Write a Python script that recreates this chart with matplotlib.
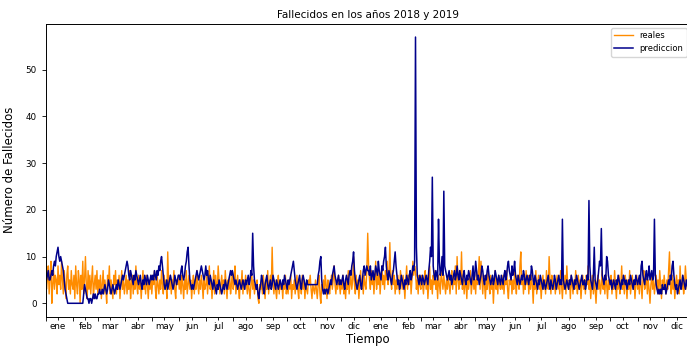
import matplotlib
matplotlib.use('Agg')
import matplotlib.pyplot as plt
import matplotlib.dates as mdates
import numpy as np
import pandas as pd

# daily values, one line per month
reales_2018 = [
    7, 3, 5, 8, 2, 6, 9, 0, 4, 7, 3, 6, 5, 2, 8, 4, 6, 3, 9, 5, 2, 7, 4, 1, 6, 8, 3, 5, 2, 7, 4,
    3, 6, 1, 8, 4, 2, 7, 5, 0, 6, 3, 9, 2, 5, 10, 4, 1, 7, 3, 6, 2, 5, 8, 1, 4, 6, 3, 7,
    2, 5, 3, 6, 1, 4, 7, 2, 5, 3, 0, 6, 4, 8, 2, 5, 3, 1, 6, 4, 7, 2, 5, 3, 6, 1, 4, 7, 3, 5, 2,
    4, 6, 2, 5, 3, 7, 1, 4, 6, 2, 5, 3, 8, 4, 2, 6, 3, 5, 1, 4, 7, 3, 5, 2, 6, 4, 1, 5, 3, 6,
    2, 5, 4, 7, 3, 1, 6, 4, 2, 5, 3, 7, 4, 2, 6, 3, 5, 1, 11, 4, 3, 6, 2, 5, 4, 7, 3, 1, 5, 4, 6,
    3, 5, 2, 6, 4, 1, 5, 3, 7, 2, 4, 6, 3, 5, 1, 4, 6, 2, 5, 3, 7, 4, 2, 5, 3, 6, 4, 1, 5, 3,
    4, 6, 2, 5, 8, 3, 5, 1, 4, 7, 2, 6, 4, 3, 8, 5, 2, 4, 6, 3, 5, 2, 7, 4, 1, 5, 3, 6, 2, 4, 7,
    3, 5, 8, 2, 4, 6, 3, 1, 5, 4, 7, 2, 5, 3, 6, 4, 2, 5, 3, 1, 4, 6, 3, 5, 2, 4, 3, 5, 1, 0, 4,
    3, 5, 2, 6, 4, 1, 5, 3, 7, 2, 4, 6, 3, 12, 4, 2, 5, 3, 1, 4, 6, 2, 5, 3, 4, 1, 5, 3, 6, 2,
    4, 2, 5, 3, 6, 1, 4, 3, 5, 2, 4, 6, 3, 1, 5, 4, 2, 6, 3, 5, 1, 4, 3, 2, 5, 4, 6, 3, 1, 4, 3,
    2, 5, 3, 1, 4, 6, 2, 0, 4, 3, 5, 2, 6, 4, 1, 5, 3, 2, 4, 6, 3, 5, 8, 4, 2, 5, 3, 6, 4, 2,
    5, 3, 6, 2, 4, 1, 5, 3, 7, 2, 4, 6, 3, 5, 10, 4, 2, 6, 3, 5, 1, 4, 7, 3, 5, 2, 6, 4, 3, 7, 15,
]
reales_2019 = [
    8, 5, 3, 7, 4, 6, 2, 5, 9, 3, 6, 4, 7, 2, 5, 8, 4, 6, 3, 7, 5, 9, 4, 6, 13, 5, 3, 7, 4, 6, 2,
    5, 3, 6, 4, 2, 7, 5, 3, 6, 4, 1, 5, 8, 3, 6, 4, 7, 2, 5, 9, 6, 8, 7, 3, 5, 2, 6, 4,
    3, 6, 4, 2, 5, 7, 3, 6, 1, 4, 8, 3, 5, 2, 6, 4, 7, 3, 5, 1, 6, 4, 2, 7, 5, 3, 6, 4, 2, 5, 3,
    6, 4, 2, 5, 7, 3, 6, 4, 8, 2, 10, 5, 3, 7, 4, 11, 3, 6, 2, 5, 4, 1, 6, 3, 5, 7, 2, 4, 6, 3,
    5, 2, 7, 4, 6, 10, 3, 9, 5, 2, 6, 4, 1, 5, 3, 7, 4, 2, 6, 3, 5, 0, 4, 7, 3, 5, 2, 6, 4, 3, 5,
    3, 6, 2, 5, 4, 7, 3, 1, 5, 4, 6, 2, 5, 3, 7, 4, 2, 6, 5, 3, 8, 11, 4, 6, 2, 5, 3, 7, 4, 6,
    2, 5, 3, 6, 4, 0, 5, 3, 7, 2, 4, 6, 3, 5, 1, 4, 6, 3, 5, 2, 7, 4, 3, 10, 5, 2, 6, 4, 3, 5, 2,
    4, 6, 3, 5, 2, 7, 4, 1, 5, 3, 6, 2, 8, 4, 3, 5, 1, 6, 4, 2, 5, 3, 7, 4, 2, 6, 3, 5, 1, 4, 6,
    3, 5, 2, 6, 4, 8, 3, 5, 1, 4, 6, 2, 5, 3, 0, 4, 6, 3, 5, 2, 4, 7, 3, 5, 2, 6, 4, 1, 5, 3,
    4, 6, 2, 5, 3, 7, 4, 1, 5, 3, 6, 2, 4, 8, 3, 5, 2, 6, 4, 1, 5, 3, 7, 2, 4, 6, 3, 5, 1, 4, 6,
    3, 5, 2, 6, 4, 1, 5, 7, 3, 4, 6, 2, 5, 3, 0, 4, 6, 3, 5, 2, 4, 6, 3, 5, 2, 7, 4, 1, 5, 3,
    6, 4, 2, 5, 3, 7, 11, 4, 2, 6, 3, 5, 1, 4, 6, 3, 5, 2, 8, 4, 3, 6, 2, 4, 8, 5, 3, 6, 2, 4, 1,
]
prediccion_2018 = [
    6, 5, 6, 7, 5, 5, 6, 7, 6, 8, 9, 8, 10, 11, 12, 10, 9, 10, 9, 8, 7, 5, 3, 2, 1, 0, 0, 0, 0, 0, 0,
    0, 0, 0, 0, 0, 0, 0, 0, 0, 0, 0, 0, 2, 4, 3, 2, 1, 1, 0, 1, 1, 0, 1, 2, 1, 2, 1, 1,
    2, 2, 3, 2, 2, 3, 2, 3, 4, 3, 2, 3, 5, 4, 3, 2, 3, 4, 3, 2, 3, 4, 3, 5, 4, 3, 4, 5, 6, 5, 6,
    7, 8, 9, 8, 6, 5, 7, 6, 5, 4, 6, 5, 7, 6, 5, 4, 5, 6, 4, 3, 5, 4, 6, 5, 4, 6, 5, 4, 5, 6,
    5, 6, 5, 7, 6, 5, 7, 6, 8, 7, 9, 10, 8, 6, 4, 3, 4, 5, 3, 4, 5, 6, 5, 4, 3, 4, 6, 5, 4, 5, 6,
    6, 5, 7, 8, 6, 5, 6, 8, 9, 11, 12, 8, 5, 4, 3, 4, 3, 4, 5, 6, 7, 6, 5, 6, 7, 8, 7, 6, 5, 6,
    8, 6, 7, 5, 4, 6, 5, 4, 3, 5, 4, 3, 2, 4, 3, 5, 4, 3, 2, 3, 4, 3, 5, 4, 3, 4, 5, 6, 7, 6, 7,
    6, 5, 4, 5, 4, 3, 4, 5, 4, 3, 4, 5, 4, 3, 5, 4, 5, 6, 4, 5, 7, 6, 15, 8, 5, 4, 3, 4, 2, 1, 3,
    4, 6, 5, 3, 2, 4, 5, 6, 4, 3, 4, 5, 3, 4, 6, 5, 4, 3, 5, 4, 3, 4, 5, 4, 3, 5, 4, 6, 5, 4,
    3, 5, 4, 5, 6, 7, 8, 9, 7, 5, 4, 3, 4, 5, 6, 4, 3, 5, 6, 5, 4, 3, 5, 4, 4, 4, 4, 4, 4, 4, 4,
    4, 4, 4, 4, 6, 7, 9, 10, 5, 3, 2, 3, 2, 3, 3, 2, 3, 4, 5, 4, 6, 7, 8, 6, 5, 4, 5, 6, 4, 5,
    4, 5, 6, 4, 3, 5, 6, 5, 4, 6, 7, 6, 8, 9, 11, 7, 5, 4, 3, 4, 5, 6, 4, 3, 5, 7, 8, 6, 7, 8, 7,
]
prediccion_2019 = [
    7, 6, 8, 5, 6, 7, 5, 6, 8, 7, 6, 9, 7, 6, 5, 8, 7, 9, 10, 12, 8, 6, 5, 7, 6, 5, 4, 6, 7, 9, 11,
    8, 6, 4, 5, 3, 4, 6, 5, 4, 3, 5, 4, 6, 5, 4, 6, 7, 5, 6, 8, 7, 9, 57, 12, 6, 5, 4, 6,
    5, 4, 6, 5, 4, 5, 6, 5, 4, 7, 9, 12, 10, 27, 8, 6, 5, 7, 6, 5, 18, 9, 6, 7, 10, 6, 24, 8, 7, 6, 5,
    6, 7, 5, 6, 4, 5, 6, 7, 5, 6, 8, 6, 5, 7, 6, 5, 4, 6, 7, 5, 4, 6, 5, 7, 6, 5, 4, 6, 8, 5,
    6, 9, 7, 5, 6, 4, 5, 6, 8, 7, 5, 4, 6, 5, 7, 8, 6, 5, 4, 5, 6, 4, 5, 7, 6, 5, 4, 6, 5, 4, 6,
    5, 4, 6, 7, 5, 6, 8, 9, 7, 6, 5, 8, 6, 7, 9, 6, 5, 4, 6, 5, 4, 5, 6, 5, 7, 6, 4, 5, 6, 5,
    4, 6, 5, 8, 7, 5, 4, 6, 5, 4, 3, 5, 4, 6, 5, 4, 3, 5, 4, 3, 4, 5, 6, 4, 3, 5, 4, 3, 4, 6, 5,
    3, 4, 5, 6, 4, 5, 4, 18, 5, 4, 3, 4, 5, 4, 3, 5, 4, 6, 5, 4, 3, 5, 4, 6, 5, 4, 3, 4, 5, 6, 4,
    4, 5, 3, 4, 6, 5, 22, 8, 5, 4, 3, 6, 12, 5, 4, 3, 5, 7, 9, 8, 16, 6, 5, 4, 6, 5, 10, 9, 6, 5,
    4, 5, 3, 4, 5, 4, 3, 5, 4, 6, 5, 4, 3, 5, 4, 6, 5, 4, 5, 3, 4, 5, 4, 6, 5, 4, 3, 5, 4, 6, 5,
    4, 5, 6, 4, 8, 9, 6, 5, 4, 6, 7, 5, 6, 8, 5, 6, 7, 5, 6, 18, 6, 4, 3, 2, 3, 2, 3, 2, 4, 3,
    3, 4, 2, 3, 4, 5, 4, 6, 5, 8, 9, 6, 4, 3, 4, 2, 3, 4, 5, 3, 4, 6, 5, 4, 3, 5, 4, 3, 2, 3, 4,
]
meses = ['ene', 'feb', 'mar', 'abr', 'may', 'jun',
         'jul', 'ago', 'sep', 'oct', 'nov', 'dic']

fechas = pd.date_range('2018-01-01', '2019-12-31', freq='D')
reales = np.array(reales_2018 + reales_2019)
prediccion = np.array(prediccion_2018 + prediccion_2019)

fig = plt.figure(figsize=(6.87, 3.47), dpi=100)
ax = fig.add_axes([0.0664, 0.0876, 0.939, 0.844])
ax.plot(fechas, reales, color='darkorange', lw=1.0, label='reales')
ax.plot(fechas, prediccion, color='darkblue', lw=1.1, label='prediccion')
ax.set_xlim(fechas[0], fechas[-1])

ax.xaxis.set_major_locator(mdates.MonthLocator())
ax.xaxis.set_major_formatter(plt.NullFormatter())
ax.xaxis.set_minor_locator(mdates.MonthLocator(bymonthday=15))
ax.xaxis.set_minor_formatter(
    plt.FuncFormatter(lambda v, p: meses[mdates.num2date(v).month - 1]))
ax.tick_params(axis='x', which='major', length=3, width=0.6)
ax.tick_params(axis='x', which='minor', length=2, width=0.6, labelsize=6.3,
               pad=2)
ax.tick_params(axis='y', length=3, width=0.6, labelsize=6.3)
for s in ax.spines.values():
    s.set_linewidth(0.7)

ax.set_title('Fallecidos en los años 2018 y 2019', fontsize=7.5, pad=4)
ax.set_xlabel('Tiempo', fontsize=8.5, labelpad=1)
ax.set_ylabel('Número de Fallecidos', fontsize=8.5, labelpad=7)
ax.legend(loc='upper right', fontsize=6, handlelength=2.2)

fig.savefig('out.png')
